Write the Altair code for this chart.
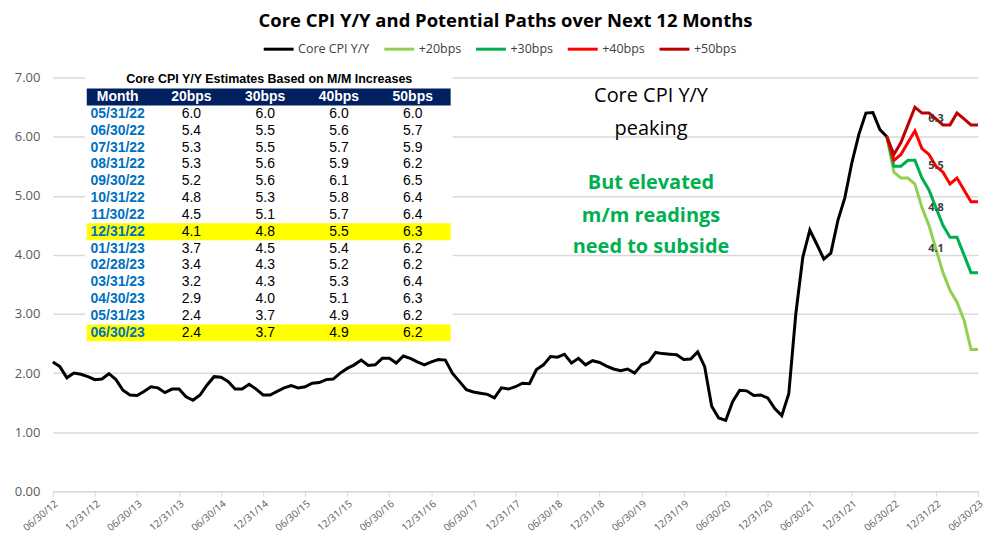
import json
import altair as alt
import pandas as pd

# ---------------- data ----------------
# Core CPI Y/Y, monthly, 06/30/12 .. 05/31/22
core_values = [
    2.19, 2.11, 1.92, 2.00, 1.98, 1.94, 1.89, 1.90, 1.99, 1.89, 1.71, 1.63,
    1.62, 1.69, 1.77, 1.75, 1.67, 1.73, 1.73, 1.60, 1.54, 1.63, 1.80, 1.94,
    1.93, 1.86, 1.73, 1.73, 1.81, 1.73, 1.63, 1.63, 1.69, 1.75, 1.79, 1.75,
    1.77, 1.83, 1.84, 1.89, 1.90, 2.00, 2.08, 2.14, 2.22, 2.13, 2.14, 2.25,
    2.25, 2.17, 2.29, 2.25, 2.19, 2.14, 2.19, 2.23, 2.22, 2.00, 1.86, 1.72,
    1.68, 1.66, 1.64, 1.58, 1.75, 1.73, 1.77, 1.83, 1.82, 2.06, 2.14, 2.28,
    2.27, 2.32, 2.17, 2.25, 2.14, 2.21, 2.18, 2.12, 2.07, 2.04, 2.07, 2.00,
    2.14, 2.19, 2.35, 2.33, 2.32, 2.31, 2.23, 2.24, 2.36, 2.11, 1.44, 1.24,
    1.20, 1.52, 1.71, 1.70, 1.62, 1.63, 1.58, 1.40, 1.28, 1.65, 3.00, 3.96,
    4.42, 4.18, 3.93, 4.03, 4.58, 4.97, 5.56, 6.04, 6.40, 6.41, 6.12, 6.00,
]
tick_labels = [
    "06/30/12", "12/31/12", "06/30/13", "12/31/13", "06/30/14", "12/31/14",
    "06/30/15", "12/31/15", "06/30/16", "12/31/16", "06/30/17", "12/31/17",
    "06/30/18", "12/31/18", "06/30/19", "12/31/19", "06/30/20", "12/31/20",
    "06/30/21", "12/31/21", "06/30/22", "12/31/22", "06/30/23",
]
table_months = [
    "05/31/22", "06/30/22", "07/31/22", "08/31/22", "09/30/22", "10/31/22",
    "11/30/22", "12/31/22", "01/31/23", "02/28/23", "03/31/23", "04/30/23",
    "05/31/23", "06/30/23",
]
p20 = [6.0, 5.4, 5.3, 5.3, 5.2, 4.8, 4.5, 4.1, 3.7, 3.4, 3.2, 2.9, 2.4, 2.4]
p30 = [6.0, 5.5, 5.5, 5.6, 5.6, 5.3, 5.1, 4.8, 4.5, 4.3, 4.3, 4.0, 3.7, 3.7]
p40 = [6.0, 5.6, 5.7, 5.9, 6.1, 5.8, 5.7, 5.5, 5.4, 5.2, 5.3, 5.1, 4.9, 4.9]
p50 = [6.0, 5.7, 5.9, 6.2, 6.5, 6.4, 6.4, 6.3, 6.2, 6.2, 6.4, 6.3, 6.2, 6.2]
table_cols = ["20bps", "30bps", "40bps", "50bps"]
series_names = ["Core CPI Y/Y", "+20bps", "+30bps", "+40bps", "+50bps"]
series_colors = ["#000000", "#92D050", "#00B050", "#FF0000", "#C00000"]
highlight_rows = ["12/31/22", "06/30/23"]
label_month = "12/31/22"

# ---------------- frames ----------------
rows = []
for i, v in enumerate(core_values):
    rows.append({"t": i, "value": v, "series": series_names[0]})
start = len(core_values) - 1
paths = {"+20bps": p20, "+30bps": p30, "+40bps": p40, "+50bps": p50}
path_rows = []
for name, vals in paths.items():
    for j, v in enumerate(vals):
        r = {"t": start + j, "value": v, "series": name, "month": table_months[j]}
        rows.append(r)
        path_rows.append(r)
lines_df = pd.DataFrame(rows)
labels_df = pd.DataFrame([r for r in path_rows if r["month"] == label_month])

tbl = []
for c in table_cols:
    tbl.append({"row": "Month", "col": c, "text": c, "kind": "hdr"})
tbl.append({"row": "Month", "col": "Month", "text": "Month", "kind": "hdr"})
for j, m in enumerate(table_months):
    tbl.append({"row": m, "col": "Month", "text": m, "kind": "date"})
    for c, vals in zip(table_cols, [p20, p30, p40, p50]):
        tbl.append({"row": m, "col": c, "text": f"{vals[j]:.1f}", "kind": "val"})
table_df = pd.DataFrame(tbl)
band_df = pd.DataFrame(
    [{"row": "Month", "fill": "hdr"}] + [{"row": r, "fill": "hl"} for r in highlight_rows]
)

# ---------------- main chart ----------------
W, H = 928, 415
FONT = "Open Sans"
n_months = start + len(table_months) - 1
label_expr = json.dumps(tick_labels) + "[round(datum.value / 6)]"

x_main = alt.X(
    "t:Q",
    scale=alt.Scale(domain=[0, n_months], nice=False, zero=False),
    axis=alt.Axis(
        values=list(range(0, n_months + 1, 6)), labelExpr=label_expr, labelAngle=-40,
        labelOverlap=False, labelBound=False,
        grid=False, domainColor="#d9d9d9", tickColor="#d9d9d9", tickSize=5,
        labelFont=FONT, labelFontSize=10, labelColor="#595959", labelPadding=2,
        title=None,
    ),
)
y_main = alt.Y(
    "value:Q",
    scale=alt.Scale(domain=[0, 7], nice=False),
    axis=alt.Axis(
        values=[0, 1, 2, 3, 4, 5, 6, 7], format=".2f", domain=False, ticks=False,
        gridColor="#d9d9d9", gridWidth=1.5, labelFont=FONT, labelFontSize=13,
        labelColor="#595959", labelPadding=13, title=None,
    ),
)

lines = alt.Chart(lines_df).mark_line(strokeWidth=3).encode(
    x=x_main,
    y=y_main,
    color=alt.Color(
        "series:N",
        scale=alt.Scale(domain=series_names, range=series_colors),
        legend=alt.Legend(
            orient="none", legendX=210, legendY=-45, direction="horizontal",
            title=None, symbolType="stroke", symbolSize=900, symbolStrokeWidth=3,
            labelFont=FONT, labelFontSize=12.5, labelColor="#404040",
            labelOffset=3, columnPadding=8, padding=0,
        ),
    ),
    order="t:Q",
)

point_labels = alt.Chart(labels_df).mark_text(
    font=FONT, fontSize=11, fontWeight="bold", color="#404040"
).encode(x="t:Q", y="value:Q", text=alt.Text("value:Q", format=".1f"))


def note(txt, x, y, size, color, weight="normal"):
    return alt.Chart(pd.DataFrame({"a": [0]})).mark_text(
        text=txt, font=FONT, fontSize=size, fontWeight=weight, color=color,
        align="center", baseline="middle",
    ).encode(x=alt.value(x), y=alt.value(y))


title = note("Core CPI Y/Y and Potential Paths over Next 12 Months", 454, -57, 18.5, "#000000", "bold")
n1 = note("Core CPI Y/Y", 600, 18, 20, "#000000")
n2 = note("peaking", 600, 52, 20, "#000000")
g1 = note("But elevated", 600, 106, 20, "#00B050", "bold")
g2 = note("m/m readings", 600, 139, 20, "#00B050", "bold")
g3 = note("need to subside", 600, 170, 20, "#00B050", "bold")

main = alt.layer(lines, point_labels, title, n1, n2, g1, g2, g3)

# ---------------- table overlay ----------------
row_domain = ["Month"] + table_months
col_domain = ["Month"] + table_cols
ty = alt.Y("row:N", scale=alt.Scale(type="band", domain=row_domain, range=[11, 264.5],
                                    paddingInner=0, paddingOuter=0), axis=None)
tx = alt.X("col:N", scale=alt.Scale(type="point", domain=col_domain, range=[65, 361],
                                    padding=0), axis=None)

bg = alt.Chart(pd.DataFrame({"a": [0]})).mark_rect(color="white").encode(
    x=alt.value(32), x2=alt.value(401), y=alt.value(-11), y2=alt.value(268)
)
bands = alt.Chart(band_df).mark_rect().encode(
    y=ty, x=alt.value(34), x2=alt.value(399),
    fill=alt.Fill("fill:N", scale=alt.Scale(domain=["hdr", "hl"], range=["#002060", "#FFFF00"]),
                  legend=None),
)
tbl_title = alt.Chart(pd.DataFrame({"a": [0]})).mark_text(
    text="Core CPI Y/Y Estimates Based on M/M Increases", font="Liberation Sans",
    fontSize=12.5, fontWeight="bold", color="#000000", align="center", baseline="middle",
).encode(x=alt.value(217), y=alt.value(1))

hdr_txt = alt.Chart(table_df[table_df.kind == "hdr"]).mark_text(
    font="Liberation Sans", fontSize=14, fontWeight="bold", color="white"
).encode(x=tx, y=ty, text="text:N")
date_txt = alt.Chart(table_df[table_df.kind == "date"]).mark_text(
    font="Liberation Sans", fontSize=14, fontWeight="bold", color="#0070C0"
).encode(x=tx, y=ty, text="text:N")
val_txt = alt.Chart(table_df[table_df.kind == "val"]).mark_text(
    font="Liberation Sans", fontSize=14, color="#000000"
).encode(x=tx, y=ty, text="text:N")

table = alt.layer(bg, bands, tbl_title, hdr_txt, date_txt, val_txt)

chart = (
    alt.layer(main, table)
    .resolve_scale(x="independent", y="independent", color="independent", fill="independent")
    .properties(
        width=W, height=H,
        autosize=alt.AutoSizeParams(type="none"),
        padding={"left": 45, "top": 69, "right": 6, "bottom": 44},
    )
    .configure_view(stroke=None)
)

chart.save("out.html", embed_options={"renderer": "svg", "actions": False})
